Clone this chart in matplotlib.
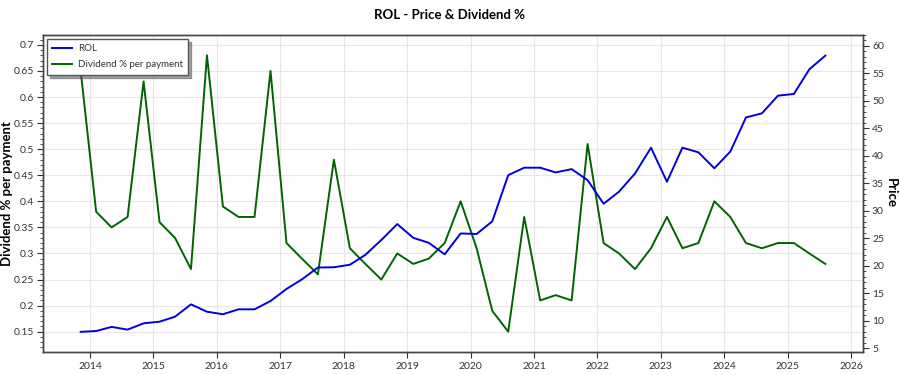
import matplotlib
matplotlib.use("Agg")
import matplotlib.pyplot as plt
import matplotlib.dates as mdates
from matplotlib.ticker import MultipleLocator, AutoMinorLocator, FuncFormatter
import pandas as pd

dates = [
    "2013-11-08", "2014-02-05", "2014-05-05", "2014-08-05",
    "2014-11-05", "2015-02-05", "2015-05-05", "2015-08-05",
    "2015-11-05", "2016-02-05", "2016-05-05", "2016-08-05",
    "2016-11-05", "2017-02-05", "2017-05-05", "2017-08-05",
    "2017-11-05", "2018-02-05", "2018-05-05", "2018-08-05",
    "2018-11-05", "2019-02-05", "2019-05-05", "2019-08-05",
    "2019-11-05", "2020-02-05", "2020-05-05", "2020-08-05",
    "2020-11-05", "2021-02-05", "2021-05-05", "2021-08-05",
    "2021-11-05", "2022-02-05", "2022-05-05", "2022-08-05",
    "2022-11-05", "2023-02-05", "2023-05-05", "2023-08-05",
    "2023-11-05", "2024-02-05", "2024-05-05", "2024-08-05",
    "2024-11-05", "2025-02-05", "2025-05-05", "2025-08-05",
]

price = [
    8.0, 8.15, 8.9, 8.4, 9.55, 9.85, 10.75, 13.0,
    11.66, 11.2, 12.1, 12.1, 13.6, 15.8, 17.55, 19.7,
    19.75, 20.2, 22.0, 24.7, 27.6, 25.1, 24.2, 22.1,
    25.9, 25.8, 28.1, 36.5, 37.86, 37.86, 37.0, 37.6,
    35.6, 31.3, 33.5, 36.8, 41.5, 35.3, 41.5, 40.66,
    37.75, 40.8, 47.0, 47.75, 50.96, 51.27, 55.76, 58.24,
]

dividend_pct = [
    0.65, 0.38, 0.35, 0.37, 0.63, 0.36, 0.33, 0.27,
    0.68, 0.39, 0.37, 0.37, 0.65, 0.32, 0.29, 0.26,
    0.48, 0.31, 0.28, 0.25, 0.30, 0.28, 0.29, 0.32,
    0.40, 0.31, 0.19, 0.15, 0.37, 0.21, 0.22, 0.21,
    0.51, 0.32, 0.30, 0.27, 0.31, 0.37, 0.31, 0.32,
    0.40, 0.37, 0.32, 0.31, 0.32, 0.32, 0.30, 0.28,
]

title = "ROL - Price & Dividend %"
price_label = "ROL"
div_label = "Dividend % per payment"

x = pd.to_datetime(dates)

plt.rcParams['font.family'] = ['Lato', 'DejaVu Sans']

fig = plt.figure(figsize=(9, 3.75), dpi=100)
ax = fig.add_axes([0.0478, 0.0613, 0.9111, 0.8454])
ax2 = ax.twinx()

ax.plot(x, dividend_pct, color="#006400", lw=1.4, label=div_label, zorder=3)
ax2.plot(x, price, color="#0000e0", lw=1.4, label=price_label, zorder=3)

ax.set_xlim(pd.Timestamp("2013-04-05"), pd.Timestamp("2026-03-10"))
ax.set_ylim(0.111, 0.719)
ax2.set_ylim(4.33, 62.0)

ax.xaxis.set_major_locator(mdates.YearLocator())
ax.xaxis.set_major_formatter(mdates.DateFormatter("%Y"))
ax.yaxis.set_major_locator(MultipleLocator(0.05))
ax.yaxis.set_minor_locator(AutoMinorLocator(5))
ax2.yaxis.set_major_locator(MultipleLocator(5))
ax2.yaxis.set_minor_locator(AutoMinorLocator(5))
ax.yaxis.set_major_formatter(FuncFormatter(lambda v, p: ("%.2f" % v).rstrip("0").rstrip(".")))

ax.grid(True, color="#e6e6e6", lw=0.8, zorder=0)
ax.set_axisbelow(True)

for a in (ax, ax2):
    a.tick_params(axis="both", which="major", labelsize=7.5, colors="#333333", length=4, pad=2.5)
    a.tick_params(axis="both", which="minor", length=2, colors="#333333")
    for s in a.spines.values():
        s.set_color("#444444")
        s.set_linewidth(1.0)
ax.tick_params(axis="x", pad=3.5)

ax.set_ylabel("Dividend % per payment", fontsize=9.5, fontweight="bold", va="center")
ax.yaxis.set_label_coords(-0.0435, 0.5)
ax2.set_ylabel("Price", fontsize=9.5, fontweight="bold", rotation=-90, va="center")
ax2.yaxis.set_label_coords(1.0335, 0.5)
fig.suptitle(title, fontsize=9.5, fontweight="bold", x=0.5, y=0.975)

h1, l1 = ax2.get_legend_handles_labels()
h2, l2 = ax.get_legend_handles_labels()
leg = ax2.legend(h1 + h2, l1 + l2, loc="upper left", fontsize=7, fancybox=False,
                 shadow=True, framealpha=1, edgecolor="#555555",
                 bbox_to_anchor=(0.005, 0.988), borderaxespad=0, borderpad=0.55,
                 labelspacing=0.75, handlelength=2.0, handletextpad=0.6)
leg.get_frame().set_linewidth(1.0)
for t in leg.get_texts():
    t.set_color("#333333")

fig.savefig("out.png", dpi=100)
